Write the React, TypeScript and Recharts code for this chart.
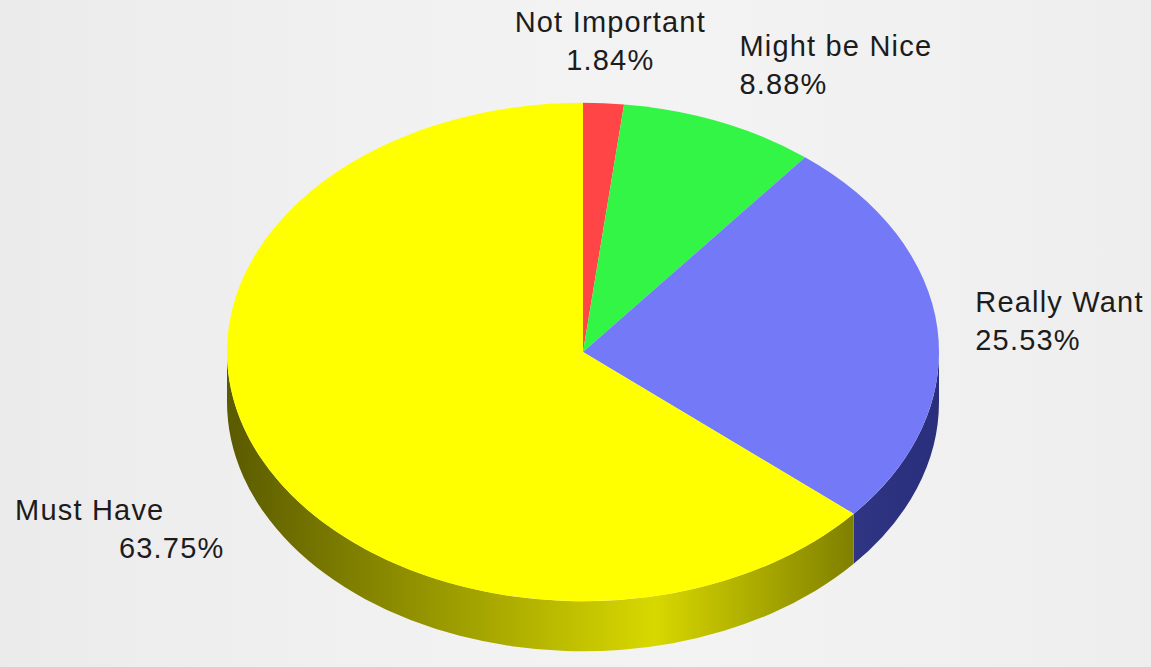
import { PieChart, Pie } from 'recharts';

const categories = ['Not Important', 'Might be Nice', 'Really Want', 'Must Have'];
const shares = [1.84, 8.88, 25.53, 63.75];
const topColors = ['#ff4545', '#33f545', '#7379f7', '#ffff00'];
const wallDark = ['#7a1a1a', '#127a1c', '#2a2f7c', '#5a5a00'];
const wallLight = ['#d03030', '#22c032', '#3a3f94', '#d8d800'];

const data = categories.map((name, i) => ({ name, value: shares[i] }));

const TILT = 0.7;
const DEPTH = 50;
const RAD = Math.PI / 180;

function pt(cx: number, cy: number, rx: number, ry: number, a: number, dy = 0) {
  return `${cx + rx * Math.cos(a * RAD)},${cy - ry * Math.sin(a * RAD) + dy}`;
}

function Slice3D(props: any) {
  const { cx, cy, outerRadius, startAngle, endAngle, index } = props;
  const rx = outerRadius;
  const ry = outerRadius * TILT;
  const s = Math.max(startAngle, endAngle);
  const e = Math.min(startAngle, endAngle);
  const large = s - e > 180 ? 1 : 0;
  const top = `M${cx},${cy} L${pt(cx, cy, rx, ry, s)} A${rx},${ry} 0 ${large} 1 ${pt(cx, cy, rx, ry, e)} Z`;

  // front wall: the part of the slice in the lower half of the ellipse
  const hi = Math.min(s, 0);
  const lo = Math.max(e, -180);
  let wall = null;
  if (lo < hi) {
    const d =
      `M${pt(cx, cy, rx, ry, hi)} A${rx},${ry} 0 0 1 ${pt(cx, cy, rx, ry, lo)} ` +
      `L${pt(cx, cy, rx, ry, lo, DEPTH)} A${rx},${ry} 0 0 0 ${pt(cx, cy, rx, ry, hi, DEPTH)} Z`;
    const gid = `wall-${index}`;
    wall = (
      <g>
        <defs>
          <linearGradient id={gid} gradientUnits="userSpaceOnUse" x1={cx - rx} y1={0} x2={cx + rx} y2={0}>
            <stop offset="0%" stopColor={wallDark[index]} />
            <stop offset="60%" stopColor={wallLight[index]} />
            <stop offset="100%" stopColor={wallDark[index]} />
          </linearGradient>
        </defs>
        <path d={d} fill={`url(#${gid})`} stroke="none" />
      </g>
    );
  }
  return (
    <g>
      {wall}
      <path d={top} fill={topColors[index]} stroke="none" />
    </g>
  );
}

function renderLabel(props: any) {
  const { cx, cy, midAngle, outerRadius, index } = props;
  const k = 30;
  const c = Math.cos(midAngle * RAD);
  const sn = Math.sin(midAngle * RAD);
  const px = cx + (outerRadius + k) * c;
  const py = cy - (outerRadius * TILT + k) * sn + (sn < 0 ? DEPTH : 0);
  const y2 = py + 27 - 30 * sn;
  const y1 = y2 - 38;
  const txt = { fontFamily: '"Liberation Sans", Arial, sans-serif', fontSize: 29, letterSpacing: 1.2, fill: '#1c1c1c' };
  const name = categories[index];
  const pct = `${shares[index].toFixed(2)}%`;
  if (Math.abs(c) < 0.2) {
    return (
      <g key={`lbl-${index}`}>
        <text x={px + 5} y={y1} textAnchor="middle" {...txt}>{name}</text>
        <text x={px + 5} y={y2} textAnchor="middle" {...txt}>{pct}</text>
      </g>
    );
  }
  if (c > 0) {
    return (
      <g key={`lbl-${index}`}>
        <text x={px + 8} y={y1} textAnchor="start" {...txt}>{name}</text>
        <text x={px + 8} y={y2} textAnchor="start" {...txt}>{pct}</text>
      </g>
    );
  }
  return (
    <g key={`lbl-${index}`}>
      <text x={px - 68} y={y1} textAnchor="end" {...txt}>{name}</text>
      <text x={px - 8} y={y2} textAnchor="end" {...txt}>{pct}</text>
    </g>
  );
}

export default function App() {
  return (
    <div
      style={{
        position: 'absolute',
        top: 0,
        left: 0,
        width: 1151,
        height: 667,
        background: 'linear-gradient(to right, #ebebeb 0%, #f2f2f2 40%, #f3f3f3 60%, #eeeeee 100%)',
      }}
    >
      <PieChart width={1151} height={667} margin={{ top: 0, right: 0, bottom: 0, left: 0 }}>
        <Pie
          data={data}
          dataKey="value"
          nameKey="name"
          cx={583}
          cy={352}
          outerRadius={356}
          startAngle={90}
          endAngle={-270}
          stroke="none"
          labelLine={false}
          label={renderLabel}
          shape={Slice3D}
          activeShape={Slice3D}
          inactiveShape={Slice3D}
          isAnimationActive={false}
        />
      </PieChart>
    </div>
  );
}
